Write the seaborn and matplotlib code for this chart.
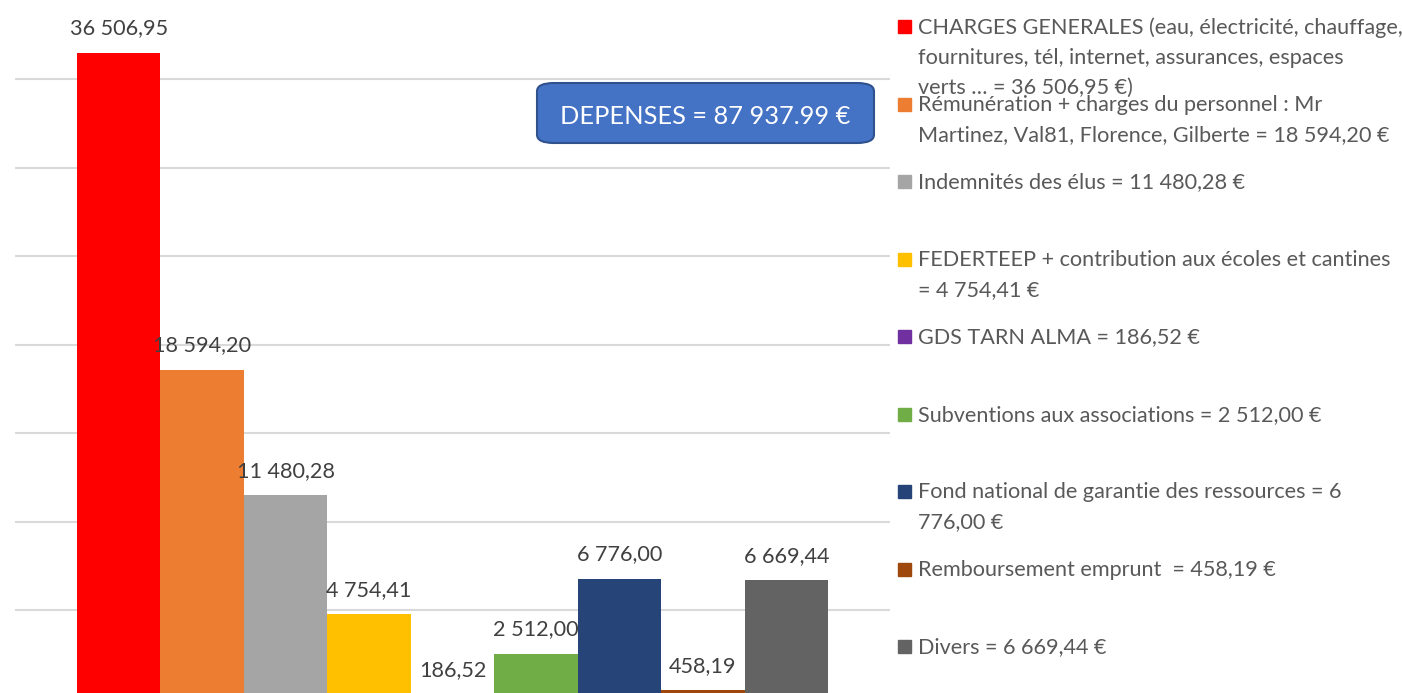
import matplotlib as mpl
mpl.use('Agg')
import matplotlib.pyplot as plt
from matplotlib.patches import FancyBboxPatch, Rectangle
import pandas as pd
import seaborn as sns

# Données (dépenses, en euros)
postes = [
    "CHARGES GENERALES (eau, électricité, chauffage,\nfournitures, tél, internet, assurances, espaces\nverts … = 36 506,95 €)",
    "Rémunération + charges du personnel : Mr\nMartinez, Val81, Florence, Gilberte = 18 594,20 €",
    "Indemnités des élus = 11 480,28 €",
    "FEDERTEEP + contribution aux écoles et cantines\n= 4 754,41 €",
    "GDS TARN ALMA = 186,52 €",
    "Subventions aux associations = 2 512,00 €",
    "Fond national de garantie des ressources = 6\n776,00 €",
    "Remboursement emprunt  = 458,19 €",
    "Divers = 6 669,44 €",
]
montants = [36506.95, 18594.20, 11480.28, 4754.41, 186.52, 2512.00, 6776.00, 458.19, 6669.44]
couleurs = ["#FF0000", "#ED7D31", "#A5A5A5", "#FFC000", "#7030A0",
            "#70AD47", "#264478", "#9E480E", "#636363"]
titre_total = "DEPENSES = 87 937.99 €"

W, H = 1402, 693

sns.set_theme(style="white")
plt.rcParams['font.family'] = ['Lato', 'DejaVu Sans']


def fr(v):
    return "{:,.2f}".format(v).replace(",", " ").replace(".", ",")


df = pd.DataFrame({"groupe": "DEPENSES", "poste": postes, "montant": montants})

fig = plt.figure(figsize=(W / 100, H / 100), dpi=100)
ax = fig.add_axes([15 / W, 0, 875 / W, 1])

sns.barplot(data=df, x="groupe", y="montant", hue="poste", hue_order=postes,
            palette=couleurs, saturation=1, width=0.8, gap=0, errorbar=None,
            linewidth=0, legend=False, ax=ax)

ax.set_yticks(range(0, 40000, 5000))
ax.set_ylim(308, 39483)
ax.set_xlim(-0.466, 0.466)
ax.yaxis.grid(True, color="#D9D9D9", linewidth=1.5)
ax.set_axisbelow(True)
ax.tick_params(left=False, bottom=False, labelleft=False, labelbottom=False)
ax.set_xlabel("")
ax.set_ylabel("")
sns.despine(ax=ax, left=True, bottom=True)

for cont, v in zip(ax.containers, montants):
    ax.bar_label(cont, labels=[fr(v)], padding=10.5, fontsize=15.6, color="#404040",
                 annotation_clip=False)

# légende à droite
for i, txt in enumerate(postes):
    yc = 26 + 77.5 * i
    fig.patches.append(Rectangle((898 / W, 1 - (yc + 7) / H), 13 / W, 13 / H,
                                 transform=fig.transFigure, color=couleurs[i]))
    for j, ligne in enumerate(txt.split("\n")):
        fig.text(918 / W, 1 - (yc + 30 * j + 7.5) / H, ligne, fontsize=15.6,
                 color="#595959", va="baseline", ha="left")

# encadré total
fig.patches.append(FancyBboxPatch((537 / W, 1 - 143 / H), 337 / W, 60 / H,
                                  boxstyle="round,pad=0,rounding_size=0.012",
                                  transform=fig.transFigure, facecolor="#4472C4",
                                  edgecolor="#2F528F", linewidth=1.5))
fig.text(705 / W, 1 - 116 / H, titre_total, fontsize=18.3, color="white",
         ha="center", va="center")

fig.savefig("out.png", dpi=100)
